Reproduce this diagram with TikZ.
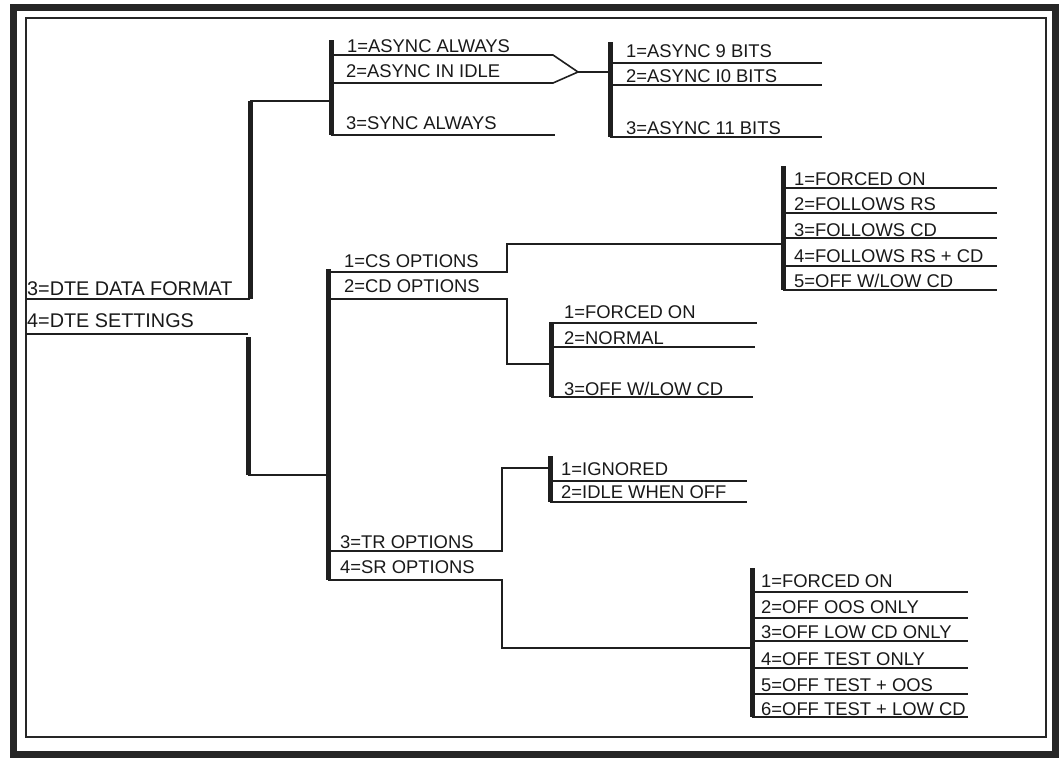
\documentclass[tikz,border=0pt]{standalone}
\usepackage{fontspec}
\setmainfont{Liberation Sans}
\begin{document}
\begin{tikzpicture}[x=1pt,y=-1pt,
  ln/.style={line width=1.6pt,line join=miter,color=black!88},
  bar/.style={line width=5pt,color=black!88},
  lbl/.style={anchor=base west,inner sep=0pt,text=black!90,font=\fontsize{18.4}{20}\selectfont},
  rootlbl/.style={lbl,font=\fontsize{19.8}{22}\selectfont},
  outerframe/.style={line width=7pt,color=black!85},
  innerframe/.style={line width=1.8pt,color=black!85}]
\useasboundingbox (0,0) rectangle (1060,763);
% frame
\draw[outerframe] (13,7) rectangle (1055,754);
\draw[innerframe] (26,18) rectangle (1046,737);

% ---------- root ----------
\node[rootlbl] (dte3) at (27,295) {3=DTE DATA FORMAT};
\node[rootlbl] (dte4) at (27,327) {4=DTE SETTINGS};
\coordinate (r3a) at (26,299); \coordinate (r3b) at (250,299);
\coordinate (r3t) at (250,101);
\coordinate (r4a) at (26,334); \coordinate (r4b) at (248,334);
\coordinate (r4s) at (248,337); \coordinate (r4e) at (248,475);
\draw[ln] (r3a) -- (r3b);
\draw[ln] (r4a) -- (r4b);
\draw[bar] (r3b) -- (r3t);
\draw[bar] (r4s) -- (r4e);

% ---------- group A (data format) ----------
\coordinate (At) at (331,40); \coordinate (Ab) at (331,135);
\draw[bar] (At) -- (Ab);
\draw[ln] (r3t) -- (331,101);
\node[lbl] (a1) at (347,52) {1=ASYNC ALWAYS};
\node[lbl] (a2) at (346,77) {2=ASYNC IN IDLE};
\node[lbl] (a3) at (346,129) {3=SYNC ALWAYS};
\coordinate (tip) at (578,72);
\draw[ln] (331,55) -- (553,55) -- (tip) -- (553,83) -- (331,83);
\draw[ln] (331,135) -- (555,135);

% ---------- group B (async bits) ----------
\coordinate (Bt) at (610,42); \coordinate (Bb) at (610,137);
\draw[bar] (Bt) -- (Bb);
\draw[ln] (tip) -- (610,72);
\node[lbl] (b1) at (626,57) {1=ASYNC 9 BITS};
\node[lbl] (b2) at (626,82) {2=ASYNC I0 BITS};
\node[lbl] (b3) at (626,134) {3=ASYNC 11 BITS};
\foreach \y in {63,85,137} \draw[ln] (610,\y) -- (822,\y);

% ---------- group C (settings) ----------
\coordinate (Ct) at (328,269); \coordinate (Cb) at (328,580);
\draw[bar] (Ct) -- (Cb);
\draw[ln] (r4e) -- (328,475);
\node[lbl] (c1) at (344,267) {1=CS OPTIONS};
\node[lbl] (c2) at (344,292) {2=CD OPTIONS};
\node[lbl] (c3) at (340,548) {3=TR OPTIONS};
\node[lbl] (c4) at (340,573) {4=SR OPTIONS};
\draw[ln] (328,272) -- (507,272) -- (507,244) -- (783,244);
\draw[ln] (328,299) -- (507,299) -- (507,364) -- (551,364);
\draw[ln] (328,551) -- (502,551) -- (502,468) -- (550,468);
\draw[ln] (328,580) -- (502,580) -- (502,648) -- (752,648);

% ---------- CS sub ----------
\draw[bar] (783,166) -- (783,290);
\node[lbl] (cs1) at (794,185) {1=FORCED ON};
\node[lbl] (cs2) at (794,210) {2=FOLLOWS RS};
\node[lbl] (cs3) at (794,236) {3=FOLLOWS CD};
\node[lbl] (cs4) at (794,262) {4=FOLLOWS RS + CD};
\node[lbl] (cs5) at (794,287) {5=OFF W/LOW CD};
\foreach \y in {188,213,238,266,290} \draw[ln] (783,\y) -- (997,\y);

% ---------- CD sub ----------
\draw[bar] (551,322) -- (551,397);
\node[lbl] (cd1) at (564,318) {1=FORCED ON};
\node[lbl] (cd2) at (564,344) {2=NORMAL};
\node[lbl] (cd3) at (564,395) {3=OFF W/LOW CD};
\draw[ln] (551,323) -- (757,323);
\draw[ln] (551,347) -- (755,347);
\draw[ln] (551,397) -- (753,397);

% ---------- TR sub ----------
\draw[bar] (550,456) -- (550,502);
\node[lbl] (tr1) at (561,475) {1=IGNORED};
\node[lbl] (tr2) at (561,498) {2=IDLE WHEN OFF};
\draw[ln] (550,481) -- (747,481);
\draw[ln] (550,502) -- (747,502);

% ---------- SR sub ----------
\draw[bar] (752,568) -- (752,717);
\node[lbl] (sr1) at (761,587) {1=FORCED ON};
\node[lbl] (sr2) at (761,613) {2=OFF OOS ONLY};
\node[lbl] (sr3) at (761,638) {3=OFF LOW CD ONLY};
\node[lbl] (sr4) at (761,665) {4=OFF TEST ONLY};
\node[lbl] (sr5) at (761,691) {5=OFF TEST + OOS};
\node[lbl] (sr6) at (761,715) {6=OFF TEST + LOW CD};
\foreach \y in {592,618,641,668,694,717} \draw[ln] (752,\y) -- (968,\y);
\end{tikzpicture}
\end{document}
